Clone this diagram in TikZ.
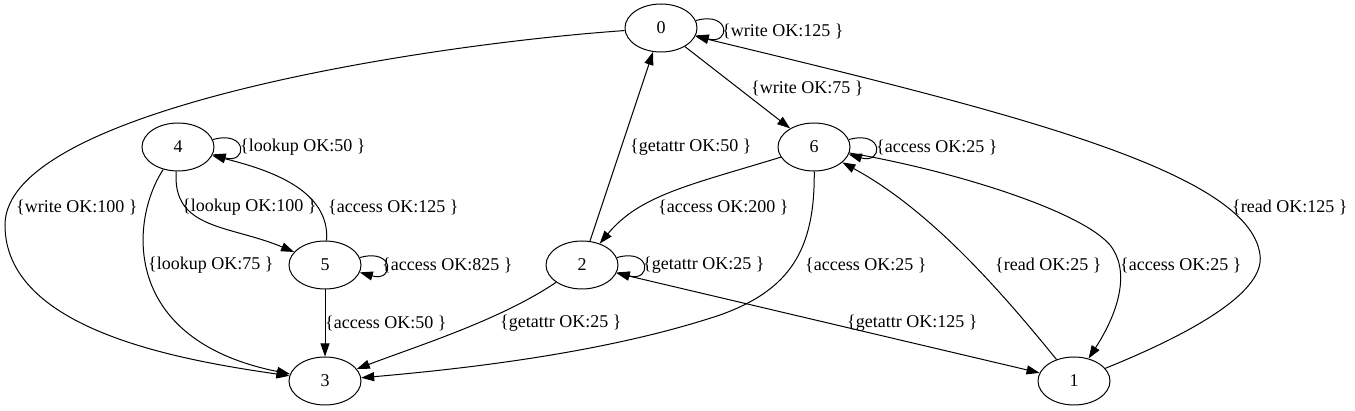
\documentclass[tikz,border=0pt]{standalone}
\usepackage{fontspec}
\setmainfont{Liberation Serif}
\usetikzlibrary{arrows.meta, shapes.geometric}

\begin{document}
\begin{tikzpicture}[x=1pt,y=1pt,font=\fontsize{18}{21}\selectfont]
\useasboundingbox (0,0) rectangle (1355,-411);
% Styles
\tikzset{gv/.tip={Triangle[length=13pt,width=9pt]}}
\tikzset{state/.style={draw, ellipse, line width=1pt, minimum width=72pt, minimum height=48pt, inner sep=0pt}}
\tikzset{edge/.style={line width=1pt, -gv}}
\tikzset{lbl/.style={anchor=west, inner sep=0pt}}
% the states
\foreach \n/\x/\y in {0/661/28, 1/1074/381, 2/582/265, 3/325/381, 4/178/147, 5/325/265, 6/814/147} {
\node [state] (s\n) at (\x,-\y) {\n};
}
% self loops
\foreach \n in {0,2,4,5,6} {
\draw [edge] (s\n.12) .. controls +(35,10) and +(35,-10) .. (s\n.-12);
}
% write
\draw [edge] (s0) .. controls (420,-45) and (5,-110) .. (5,-225) .. controls (5,-330) and (180,-360) .. (s3);
\draw [edge] (s0) -- (s6);
% lookup
\draw [edge] (s4) .. controls (172,-230) and (230,-225) .. (s5);
\draw [edge] (s4) .. controls (130,-220) and (120,-340) .. (s3);
% access
\draw [edge] (s5) .. controls (330,-190) and (270,-170) .. (s4);
\draw [edge] (s5) -- (s3);
\draw [edge] (s6) .. controls (690,-185) and (640,-195) .. (s2);
\draw [edge] (s6) .. controls (815,-250) and (790,-290) .. (720,-315) .. controls (600,-355) and (450,-370) .. (s3);
\draw [edge] (s6) .. controls (950,-170) and (1080,-210) .. (1110,-245) .. controls (1130,-270) and (1120,-310) .. (s1);
% getattr
\draw [edge] (s2) -- (s0);
\draw [edge] (s2) .. controls (500,-320) and (420,-345) .. (s3);
\draw [edge, gv-gv] (s2) -- (s1);
% read
\draw [edge] (s1) .. controls (1000,-290) and (930,-210) .. (s6);
\draw [edge] (s1) .. controls (1200,-330) and (1265,-290) .. (1260,-255) .. controls (1250,-170) and (1000,-110) .. (s0);
% the labels
\node [lbl] (l00) at (722,-31) {\{write OK:125 \}};
\node [lbl] (l06) at (751,-88) {\{write OK:75 \}};
\node [lbl] (l03) at (16,-207) {\{write OK:100 \}};
\node [lbl] (l44) at (240,-147) {\{lookup OK:50 \}};
\node [lbl] (l45) at (182,-207) {\{lookup OK:100 \}};
\node [lbl] (l43) at (148,-265) {\{lookup OK:75 \}};
\node [lbl] (l54) at (328,-207) {\{access OK:125 \}};
\node [lbl] (l55) at (382,-265) {\{access OK:825 \}};
\node [lbl] (l53) at (325,-323) {\{access OK:50 \}};
\node [lbl] (l20) at (630,-147) {\{getattr OK:50 \}};
\node [lbl] (l22) at (643,-265) {\{getattr OK:25 \}};
\node [lbl] (l23) at (500,-323) {\{getattr OK:25 \}};
\node [lbl] (l21) at (847,-323) {\{getattr OK:125 \}};
\node [lbl] (l66) at (876,-147) {\{access OK:25 \}};
\node [lbl] (l62) at (658,-207) {\{access OK:200 \}};
\node [lbl] (l63) at (805,-265) {\{access OK:25 \}};
\node [lbl] (l61) at (1120,-265) {\{access OK:25 \}};
\node [lbl] (l16) at (995,-265) {\{read OK:25 \}};
\node [lbl] (l10) at (1232,-207) {\{read OK:125 \}};
\end{tikzpicture}
\end{document}
